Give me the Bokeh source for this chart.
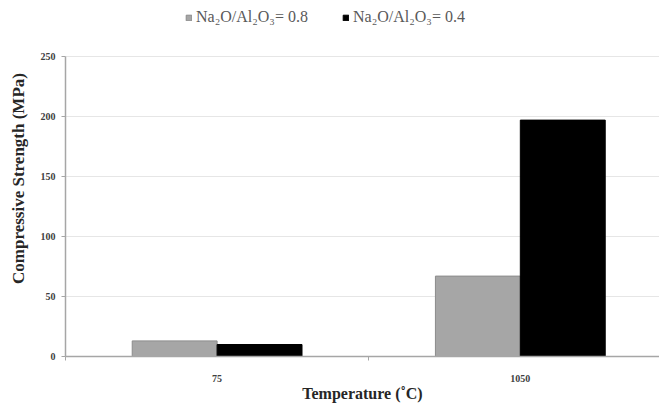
from bokeh.plotting import figure
from bokeh.models import ColumnDataSource, Legend, LegendItem, FixedTicker, Range1d
from bokeh.transform import dodge
from bokeh.embed import file_html
from bokeh.resources import INLINE

categories = ["75", "1050"]
series_08 = [13, 67]
series_04 = [10, 197]
y_ticks = [0, 50, 100, 150, 200, 250]

xpos = list(range(len(categories)))
src = ColumnDataSource(dict(x=xpos, a=series_08, b=series_04))

p = figure(width=659, height=407, output_backend="svg", toolbar_location=None,
           x_range=Range1d(-0.5, 1.459), y_range=Range1d(0, 296.67),
           min_border_left=65, min_border_right=0, min_border_top=0, min_border_bottom=51)
p.background_fill_color = "white"
p.border_fill_color = "white"
p.outline_line_color = None

r1 = p.vbar(x=dodge("x", -0.14, range=p.x_range), top="a", width=0.28, source=src,
            fill_color="#a6a6a6", line_color="#8c8c8c", line_width=1)
r2 = p.vbar(x=dodge("x", 0.14, range=p.x_range), top="b", width=0.28, source=src,
            fill_color="#000000", line_color="#000000", line_width=1)

legend = Legend(items=[LegendItem(label="Na\u2082O/Al\u2082O\u2083= 0.8", renderers=[r1]),
                       LegendItem(label="Na\u2082O/Al\u2082O\u2083= 0.4", renderers=[r2])],
                orientation="horizontal", location=(120, 330),
                label_text_font="Liberation Serif", label_text_font_size="16px",
                label_text_color="#595959", glyph_width=7, glyph_height=7,
                spacing=34, label_standoff=4, padding=0, margin=0,
                border_line_color=None, background_fill_alpha=0)
p.add_layout(legend, "center")

p.yaxis.ticker = FixedTicker(ticks=y_ticks)
p.yaxis.bounds = (0, 250)
p.xaxis.ticker = FixedTicker(ticks=xpos, minor_ticks=[-0.5, 0.5, 1.5])
p.xaxis.major_label_overrides = {i: c for i, c in enumerate(categories)}

for ax in (p.xaxis, p.yaxis):
    ax.axis_line_color = "#a6a6a6"
    ax.axis_line_width = 1.5
    ax.major_label_text_font = "Liberation Serif"
    ax.major_label_text_font_size = "10px"
    ax.major_label_text_font_style = "bold"
    ax.major_label_text_color = "#404040"
    ax.axis_label_text_font = "Liberation Serif"
    ax.axis_label_text_font_style = "bold"
    ax.axis_label_text_color = "#262626"

p.xaxis.axis_label_text_font_size = "16px"
p.yaxis.axis_label_text_font_size = "17px"

p.xaxis.major_tick_line_color = None
p.xaxis.minor_tick_line_color = "#a6a6a6"
p.xaxis.minor_tick_out = 4
p.xaxis.minor_tick_in = 0
p.xaxis.major_label_standoff = 12
p.xaxis.axis_label = "Temperature (\u02daC)"
p.xaxis.axis_label_standoff = 0

p.yaxis.major_tick_line_color = "#a6a6a6"
p.yaxis.major_tick_out = 4
p.yaxis.major_tick_in = 0
p.yaxis.minor_tick_line_color = None
p.yaxis.major_label_standoff = 6
p.yaxis.axis_label = "Compressive Strength (MPa)"
p.yaxis.axis_label_standoff = 10

p.xgrid.grid_line_color = None
p.ygrid.grid_line_color = "#e6e6e6"
p.ygrid.grid_line_width = 1

open("out.html", "w").write(file_html(p, INLINE))
